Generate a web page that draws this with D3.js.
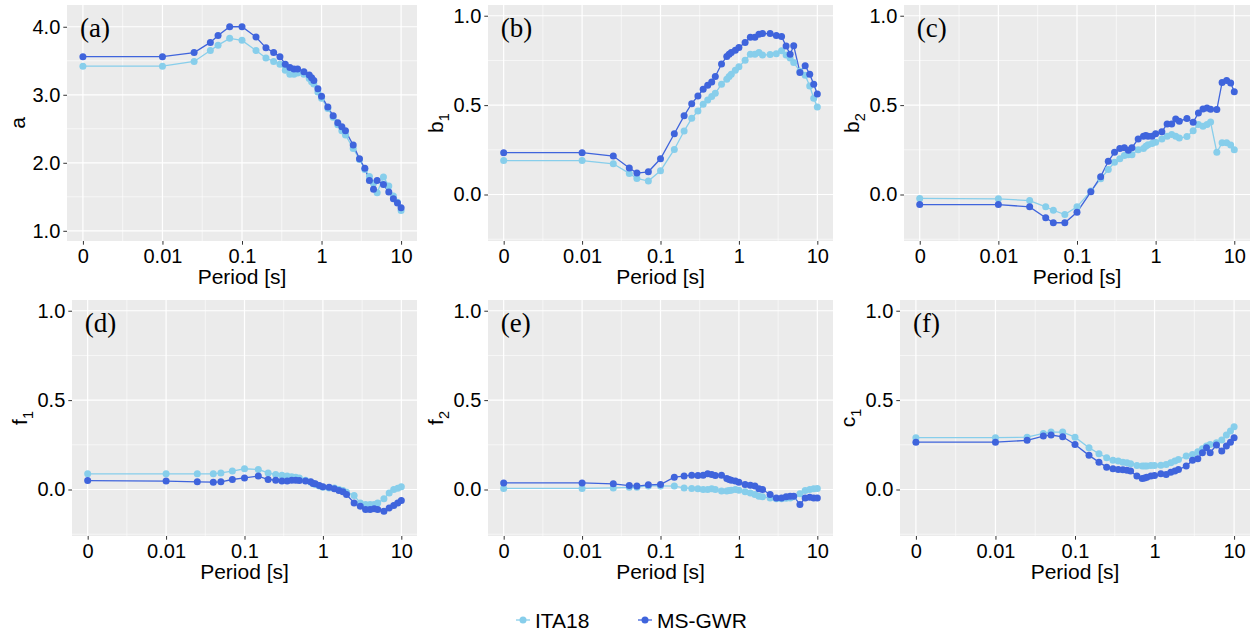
<!DOCTYPE html>
<html>
<head>
<meta charset="utf-8">
<script src="https://cdnjs.cloudflare.com/ajax/libs/d3/7.8.5/d3.min.js"></script>
<style>
  body { margin: 0; background: #fff; }
  text { font-family: Arial, "Liberation Sans", sans-serif; }
</style>
</head>
<body>
<svg id="chart" width="1257" height="636"></svg>
<script>
// spectral periods (0 = PGA, drawn one decade left of 0.01)
const periods = [0, 0.01, 0.025, 0.04, 0.05, 0.07, 0.1, 0.15, 0.2, 0.25, 0.3, 0.35, 0.4, 0.45, 0.5,
  0.6, 0.7, 0.75, 0.8, 0.9, 1, 1.2, 1.4, 1.6, 1.8, 2, 2.5, 3, 3.5, 4, 4.5, 5, 6, 7, 8, 9, 10];
const periodTicks = [0, 0.01, 0.1, 1, 10];
const periodTickLabels = ["0", "0.01", "0.1", "1", "10"];
const seriesNames = ["ITA18", "MS-GWR"];

const a_ITA18 = [3.42,3.42,3.49,3.65,3.73,3.83,3.80,3.65,3.54,3.49,3.45,3.36,3.30,3.30,3.32,3.30,3.24,3.19,3.16,3.04,2.95,2.80,2.67,2.56,2.47,2.41,2.21,2.05,1.90,1.80,1.70,1.56,1.79,1.66,1.51,1.42,1.30];
const a_MSGWR = [3.56,3.56,3.62,3.77,3.87,4.00,4.00,3.85,3.69,3.62,3.56,3.45,3.40,3.38,3.38,3.34,3.29,3.25,3.21,3.09,2.98,2.82,2.69,2.59,2.53,2.47,2.26,2.06,1.92,1.74,1.61,1.74,1.68,1.57,1.47,1.41,1.34];

const b1_ITA18 = [0.19,0.19,0.172,0.118,0.09,0.075,0.133,0.252,0.355,0.426,0.467,0.505,0.529,0.548,0.566,0.617,0.645,0.66,0.673,0.695,0.714,0.751,0.785,0.785,0.794,0.78,0.783,0.787,0.804,0.78,0.763,0.738,0.69,0.667,0.607,0.538,0.49];
const b1_MSGWR = [0.234,0.234,0.215,0.148,0.12,0.127,0.20,0.34,0.44,0.508,0.551,0.589,0.611,0.63,0.66,0.73,0.772,0.785,0.794,0.807,0.822,0.85,0.879,0.879,0.897,0.90,0.90,0.89,0.884,0.83,0.785,0.832,0.683,0.72,0.673,0.617,0.562];

const b2_ITA18 = [-0.022,-0.024,-0.034,-0.069,-0.088,-0.112,-0.069,0.019,0.088,0.14,0.18,0.2,0.218,0.223,0.223,0.251,0.257,0.27,0.279,0.285,0.292,0.311,0.326,0.335,0.326,0.316,0.324,0.356,0.391,0.382,0.391,0.405,0.236,0.289,0.289,0.277,0.251];
const b2_MSGWR = [-0.056,-0.056,-0.069,-0.13,-0.158,-0.158,-0.099,0.015,0.10,0.186,0.237,0.258,0.261,0.247,0.262,0.311,0.326,0.33,0.326,0.326,0.34,0.351,0.395,0.395,0.423,0.41,0.425,0.404,0.456,0.479,0.484,0.477,0.475,0.627,0.638,0.624,0.575];

const f1_ITA18 = [0.088,0.088,0.088,0.088,0.093,0.103,0.116,0.112,0.093,0.084,0.08,0.075,0.071,0.069,0.065,0.052,0.041,0.034,0.028,0.019,0.013,0.009,0.009,0.0,-0.006,-0.015,-0.034,-0.075,-0.084,-0.084,-0.084,-0.075,-0.052,-0.019,0.0,0.007,0.015];
const f1_MSGWR = [0.05,0.047,0.043,0.041,0.043,0.056,0.065,0.075,0.056,0.052,0.047,0.047,0.052,0.052,0.05,0.047,0.043,0.034,0.032,0.022,0.015,0.013,0.004,-0.006,-0.013,-0.028,-0.075,-0.093,-0.112,-0.112,-0.108,-0.112,-0.121,-0.103,-0.09,-0.075,-0.062];

const f2_ITA18 = [0.006,0.006,0.009,0.012,0.013,0.02,0.02,0.019,0.009,0.006,0.004,0.0,0.0,0.004,0.0,-0.009,-0.009,-0.006,-0.004,0.0,-0.004,-0.013,-0.019,-0.028,-0.037,-0.041,-0.047,-0.052,-0.052,-0.049,-0.047,-0.041,-0.024,-0.006,0.0,0.004,0.006];
const f2_MSGWR = [0.037,0.037,0.032,0.022,0.019,0.026,0.028,0.069,0.075,0.08,0.079,0.08,0.088,0.084,0.079,0.08,0.062,0.056,0.052,0.047,0.041,0.028,0.024,0.019,0.004,0.0,-0.028,-0.047,-0.047,-0.041,-0.037,-0.037,-0.084,-0.047,-0.043,-0.047,-0.047];

const c1_ITA18 = [0.29,0.29,0.293,0.314,0.321,0.321,0.293,0.234,0.2,0.178,0.164,0.159,0.153,0.15,0.144,0.135,0.131,0.131,0.131,0.135,0.135,0.136,0.14,0.15,0.159,0.168,0.187,0.196,0.211,0.228,0.243,0.252,0.262,0.277,0.305,0.327,0.351];
const c1_MSGWR = [0.265,0.265,0.275,0.299,0.305,0.295,0.252,0.191,0.153,0.125,0.116,0.112,0.11,0.108,0.103,0.075,0.062,0.065,0.069,0.075,0.079,0.088,0.084,0.097,0.103,0.112,0.131,0.163,0.172,0.206,0.234,0.206,0.249,0.215,0.243,0.265,0.29];

const coefTicks = [0, 0.5, 1];
const aTicks = [1, 2, 3, 4];

const colors = ["#87CEEB", "#3F64DC"];

// panel layout
const panels = [
  {tag: "(a)", name: "a",  sub: "",  vals: [a_ITA18, a_MSGWR],   ticks: aTicks,    minor: [1.5, 2.5, 3.5], ydom: [0.85, 4.32], box: {l: 67,  r: 417,  t: 5,   b: 241}},
  {tag: "(b)", name: "b",  sub: "1", vals: [b1_ITA18, b1_MSGWR], ticks: coefTicks, minor: [-0.25, 0.25, 0.75], ydom: [-0.26, 1.06], box: {l: 488, r: 833,  t: 5,   b: 241}},
  {tag: "(c)", name: "b",  sub: "2", vals: [b2_ITA18, b2_MSGWR], ticks: coefTicks, minor: [-0.25, 0.25, 0.75], ydom: [-0.26, 1.06], box: {l: 904, r: 1250, t: 5,   b: 241}},
  {tag: "(d)", name: "f",  sub: "1", vals: [f1_ITA18, f1_MSGWR], ticks: coefTicks, minor: [-0.25, 0.25, 0.75], ydom: [-0.26, 1.06], box: {l: 72,  r: 417,  t: 300, b: 536}},
  {tag: "(e)", name: "f",  sub: "2", vals: [f2_ITA18, f2_MSGWR], ticks: coefTicks, minor: [-0.25, 0.25, 0.75], ydom: [-0.26, 1.06], box: {l: 488, r: 833,  t: 300, b: 536}},
  {tag: "(f)", name: "c",  sub: "1", vals: [c1_ITA18, c1_MSGWR], ticks: coefTicks, minor: [-0.25, 0.25, 0.75], ydom: [-0.26, 1.06], box: {l: 900, r: 1250, t: 300, b: 536}}
];

const svg = d3.select("#chart");
const pgaPos = 0.001; // where T = 0 sits on the log axis
const tx = t => (t === 0 ? pgaPos : t);
const xMinor = [-2.5, -1.5, -0.5, 0.5].map(e => Math.pow(10, e));

panels.forEach(p => {
  const bx = p.box;
  const x = d3.scaleLog().domain([Math.pow(10, -3.2), Math.pow(10, 1.2)]).range([bx.l, bx.r]);
  const y = d3.scaleLinear().domain(p.ydom).range([bx.b, bx.t]);
  const g = svg.append("g");

  g.append("rect")
    .attr("x", bx.l).attr("y", bx.t)
    .attr("width", bx.r - bx.l).attr("height", bx.b - bx.t)
    .attr("fill", "#EBEBEB");

  // grid
  g.selectAll(".ymin").data(p.minor).join("line")
    .attr("x1", bx.l).attr("x2", bx.r)
    .attr("y1", d => y(d)).attr("y2", d => y(d))
    .attr("stroke", "#fff").attr("stroke-width", 0.6);
  g.selectAll(".xmin").data(xMinor).join("line")
    .attr("x1", d => x(d)).attr("x2", d => x(d))
    .attr("y1", bx.t).attr("y2", bx.b)
    .attr("stroke", "#fff").attr("stroke-width", 0.6);
  g.selectAll(".ymaj").data(p.ticks).join("line")
    .attr("x1", bx.l).attr("x2", bx.r)
    .attr("y1", d => y(d)).attr("y2", d => y(d))
    .attr("stroke", "#fff").attr("stroke-width", 1.2);
  g.selectAll(".xmaj").data(periodTicks).join("line")
    .attr("x1", d => x(tx(d))).attr("x2", d => x(tx(d)))
    .attr("y1", bx.t).attr("y2", bx.b)
    .attr("stroke", "#fff").attr("stroke-width", 1.2);

  // axes
  const xAxis = d3.axisBottom(x)
    .tickValues(periodTicks.map(tx))
    .tickFormat((d, i) => periodTickLabels[i])
    .tickSize(3.7).tickPadding(4.5);
  const gx = g.append("g").attr("transform", `translate(0,${bx.b})`).call(xAxis);
  const yAxis = d3.axisLeft(y).tickValues(p.ticks).tickFormat(d3.format(".1f"))
    .tickSize(3.7).tickPadding(3);
  const gy = g.append("g").attr("transform", `translate(${bx.l},0)`).call(yAxis);
  [gx, gy].forEach(a => {
    a.select(".domain").remove();
    a.selectAll(".tick line").attr("stroke", "#333");
    a.selectAll(".tick text").attr("fill", "#000").style("font-size", "20px");
  });

  g.append("text")
    .attr("x", (bx.l + bx.r) / 2).attr("y", bx.b + 43)
    .attr("text-anchor", "middle").style("font-size", "21px")
    .text("Period [s]");

  const yt = g.append("text")
    .attr("transform", `translate(${p.sub ? bx.l - 45 : bx.l - 42},${(bx.t + bx.b) / 2}) rotate(-90)`)
    .attr("text-anchor", "middle").style("font-size", "21px");
  yt.append("tspan").text(p.name);
  if (p.sub) yt.append("tspan").attr("dy", 6).style("font-size", "14.5px").text(p.sub);

  // lines first, then points (ITA18 below MS-GWR)
  const line = d3.line().x((d, i) => x(tx(periods[i]))).y(d => y(d));
  p.vals.forEach((v, k) => {
    g.append("path").datum(v)
      .attr("d", line).attr("fill", "none")
      .attr("stroke", colors[k]).attr("stroke-width", 1.3);
  });
  p.vals.forEach((v, k) => {
    g.append("g").selectAll("circle").data(v).join("circle")
      .attr("cx", (d, i) => x(tx(periods[i])))
      .attr("cy", d => y(d))
      .attr("r", 3.5).attr("fill", colors[k]);
  });

  g.append("text")
    .attr("x", x(pgaPos) - 3).attr("y", bx.t + 32)
    .style("font-family", "'Liberation Serif', 'Times New Roman', serif")
    .style("font-size", "27px")
    .text(p.tag);
});

// legend
const legendX = [516, 638];
const leg = svg.append("g").selectAll("g").data(seriesNames).join("g")
  .attr("transform", (d, i) => `translate(${legendX[i]},620)`);
leg.append("line").attr("x1", 0).attr("x2", 14).attr("y1", 0).attr("y2", 0)
  .attr("stroke", (d, i) => colors[i]).attr("stroke-width", 1.3);
leg.append("circle").attr("cx", 7).attr("cy", 0).attr("r", 3.5)
  .attr("fill", (d, i) => colors[i]);
leg.append("text").attr("x", 19).attr("y", 7.5)
  .style("font-size", "21px").text(d => d);
</script>
</body>
</html>
